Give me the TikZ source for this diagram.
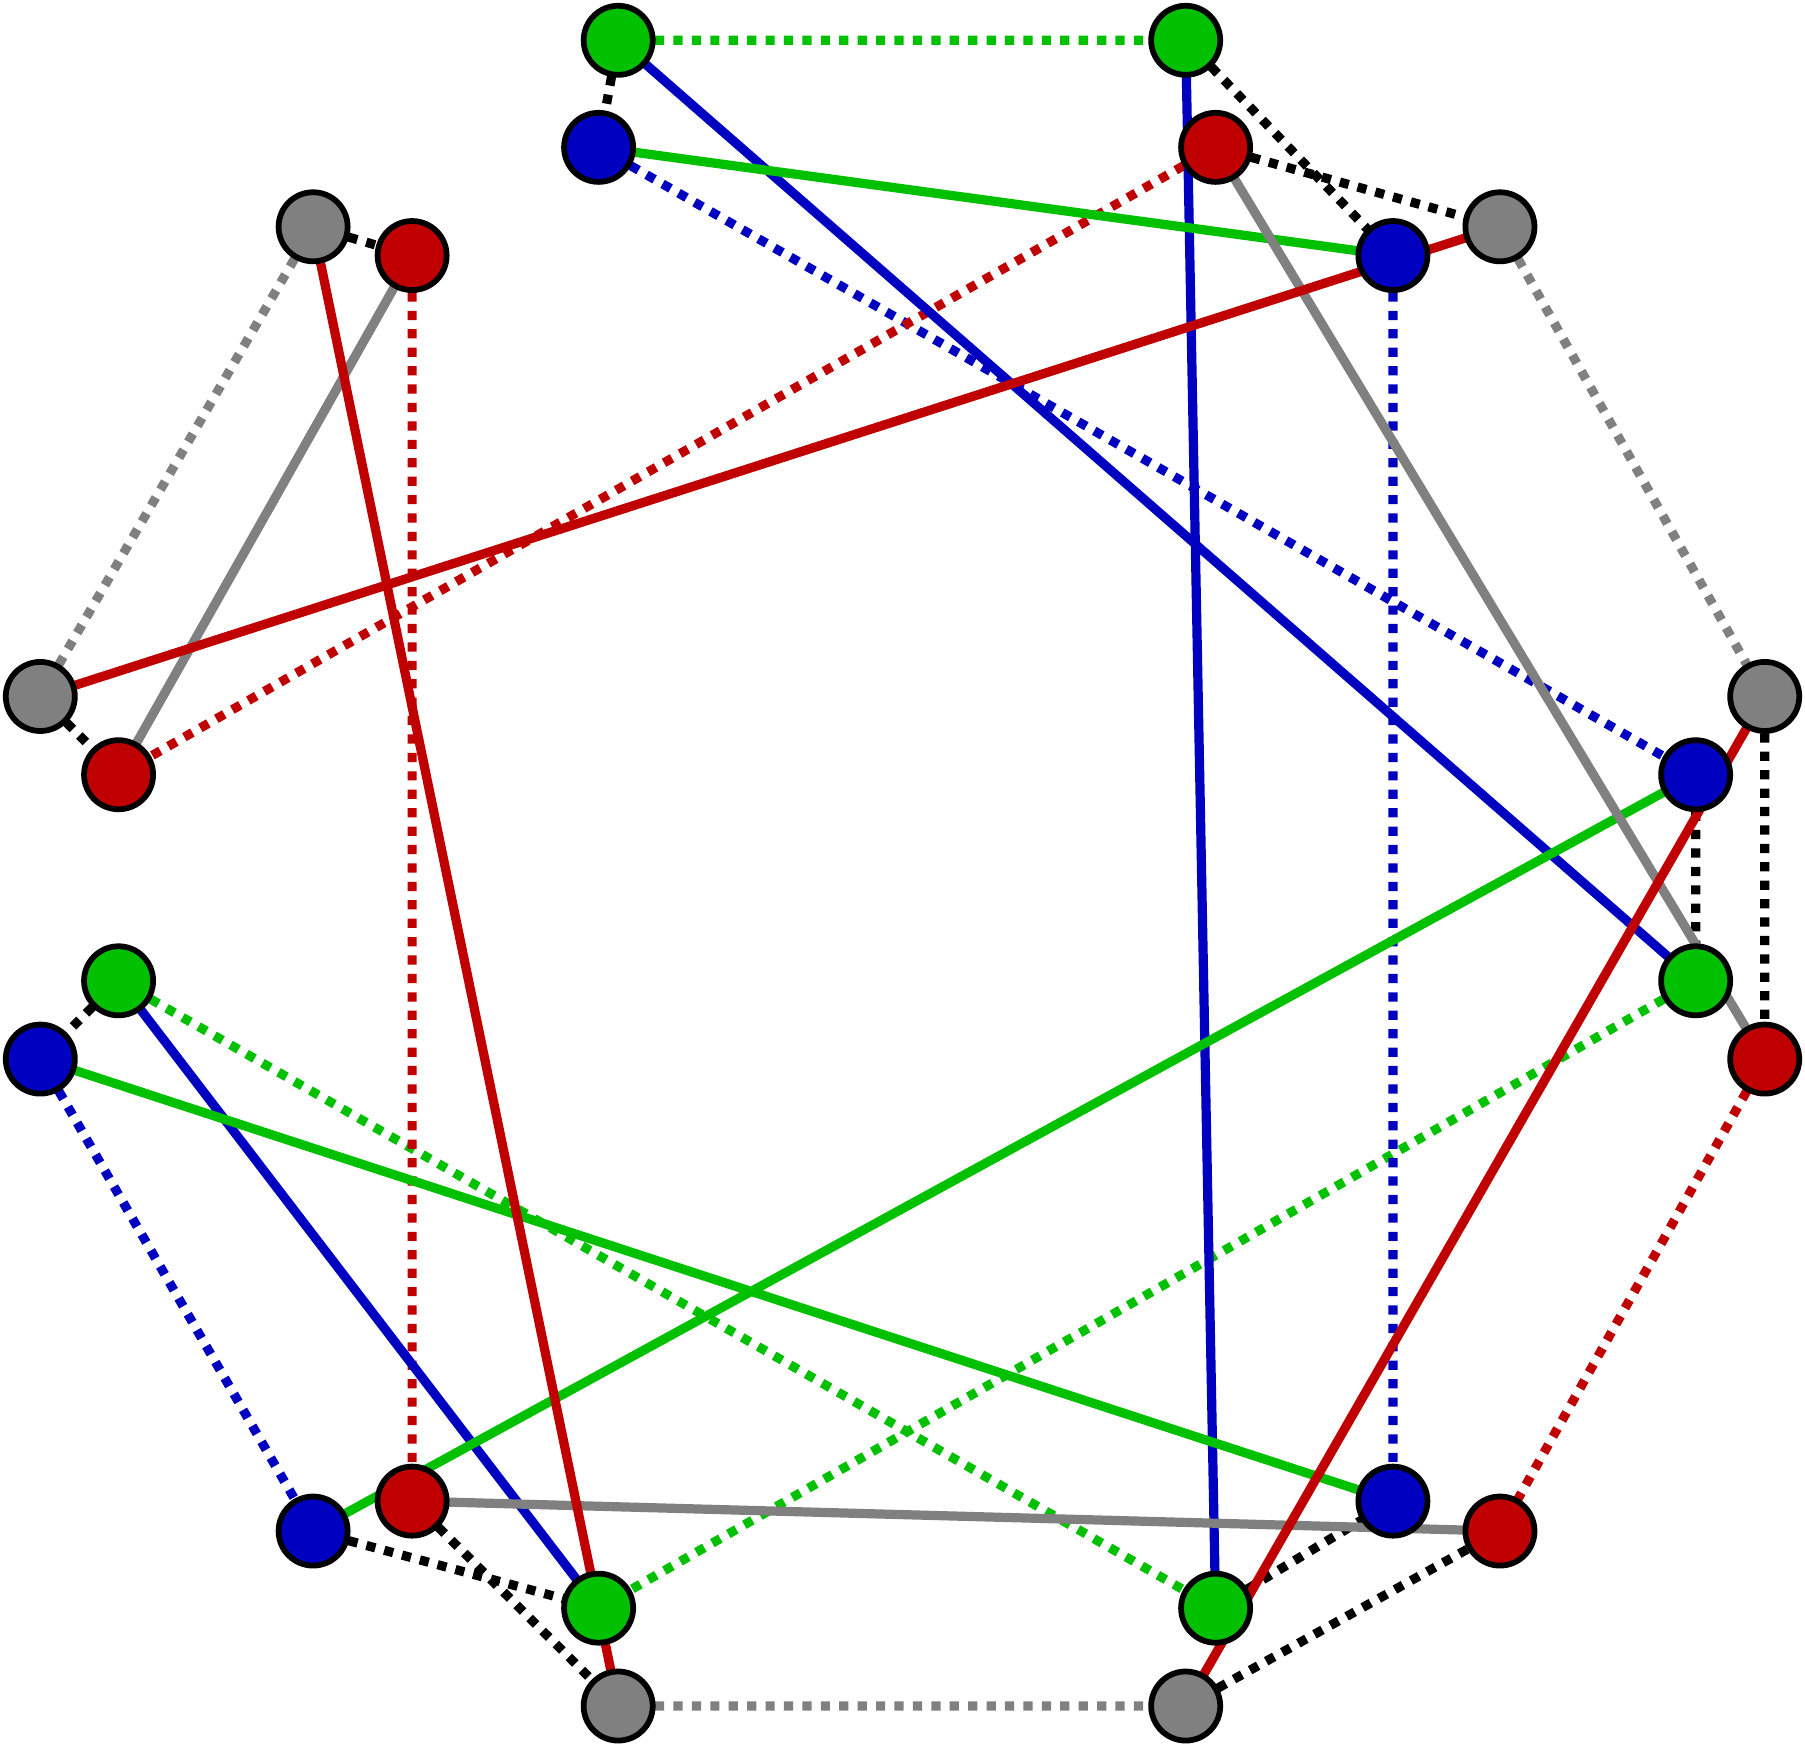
\documentclass[tikz,border=0pt]{standalone}
\usetikzlibrary{backgrounds}
\definecolor{cg}{HTML}{00C000}
\definecolor{cb}{HTML}{0000C0}
\definecolor{cr}{HTML}{C00000}
\definecolor{cy}{HTML}{808080}
\tikzset{
  v/.style={circle,draw=black,line width=2.5pt,minimum size=30pt,inner sep=0pt},
  sl/.style={line width=4pt},
  dl/.style={line width=4pt,dash pattern=on 4pt off 4pt},
}
\begin{document}
\begin{tikzpicture}[x=0.5pt,y=-0.5pt]
\useasboundingbox (0,0) rectangle (1568,1517);
\node[v,fill=cg] (G1) at (537,35) {};
\node[v,fill=cg] (G2) at (1030,35) {};
\node[v,fill=cb] (B1) at (520,128) {};
\node[v,fill=cr] (R1) at (1056,128) {};
\node[v,fill=cy] (Y1) at (272,197) {};
\node[v,fill=cr] (R2) at (358,222) {};
\node[v,fill=cb] (B2) at (1210,222) {};
\node[v,fill=cy] (Y2) at (1303,197) {};
\node[v,fill=cy] (Y3) at (35,605) {};
\node[v,fill=cr] (R3) at (103,673) {};
\node[v,fill=cy] (Y4) at (1533,605) {};
\node[v,fill=cb] (B3) at (1473,673) {};
\node[v,fill=cg] (G3) at (103,852) {};
\node[v,fill=cb] (B4) at (35,920) {};
\node[v,fill=cg] (G4) at (1473,852) {};
\node[v,fill=cr] (R4) at (1533,920) {};
\node[v,fill=cb] (B5) at (272,1330) {};
\node[v,fill=cr] (R5) at (358,1304) {};
\node[v,fill=cb] (B6) at (1210,1304) {};
\node[v,fill=cr] (R6) at (1303,1330) {};
\node[v,fill=cg] (G5) at (520,1397) {};
\node[v,fill=cg] (G6) at (1056,1397) {};
\node[v,fill=cy] (Y5) at (537,1482) {};
\node[v,fill=cy] (Y6) at (1030,1482) {};
\begin{scope}[on background layer]
\draw[dl,black] (G1.center)--(B1.center) (G2.center)--(B2.center) (R1.center)--(Y2.center)
  (Y1.center)--(R2.center) (Y3.center)--(R3.center) (Y4.center)--(R4.center) (B3.center)--(G4.center)
  (G3.center)--(B4.center) (B5.center)--(G5.center) (R5.center)--(Y5.center) (G6.center)--(B6.center) (Y6.center)--(R6.center);
\draw[dl,cg] (G1.center)--(G2.center) (G3.center)--(G6.center) (G4.center)--(G5.center);
\draw[dl,cb] (B1.center)--(B3.center) (B2.center)--(B6.center) (B4.center)--(B5.center);
\draw[dl,cr] (R1.center)--(R3.center) (R2.center)--(R5.center) (R4.center)--(R6.center);
\draw[dl,cy] (Y1.center)--(Y3.center) (Y2.center)--(Y4.center) (Y5.center)--(Y6.center);
\draw[sl,cb] (G1.center)--(G4.center) (G2.center)--(G6.center) (G3.center)--(G5.center);
\draw[sl,cg] (B1.center)--(B2.center) (B3.center)--(B5.center) (B4.center)--(B6.center);
\draw[sl,cy] (R1.center)--(R4.center) (R2.center)--(R3.center) (R5.center)--(R6.center);
\draw[sl,cr] (Y2.center)--(Y3.center) (Y1.center)--(Y5.center) (Y4.center)--(Y6.center);
\end{scope}
\end{tikzpicture}
\end{document}
